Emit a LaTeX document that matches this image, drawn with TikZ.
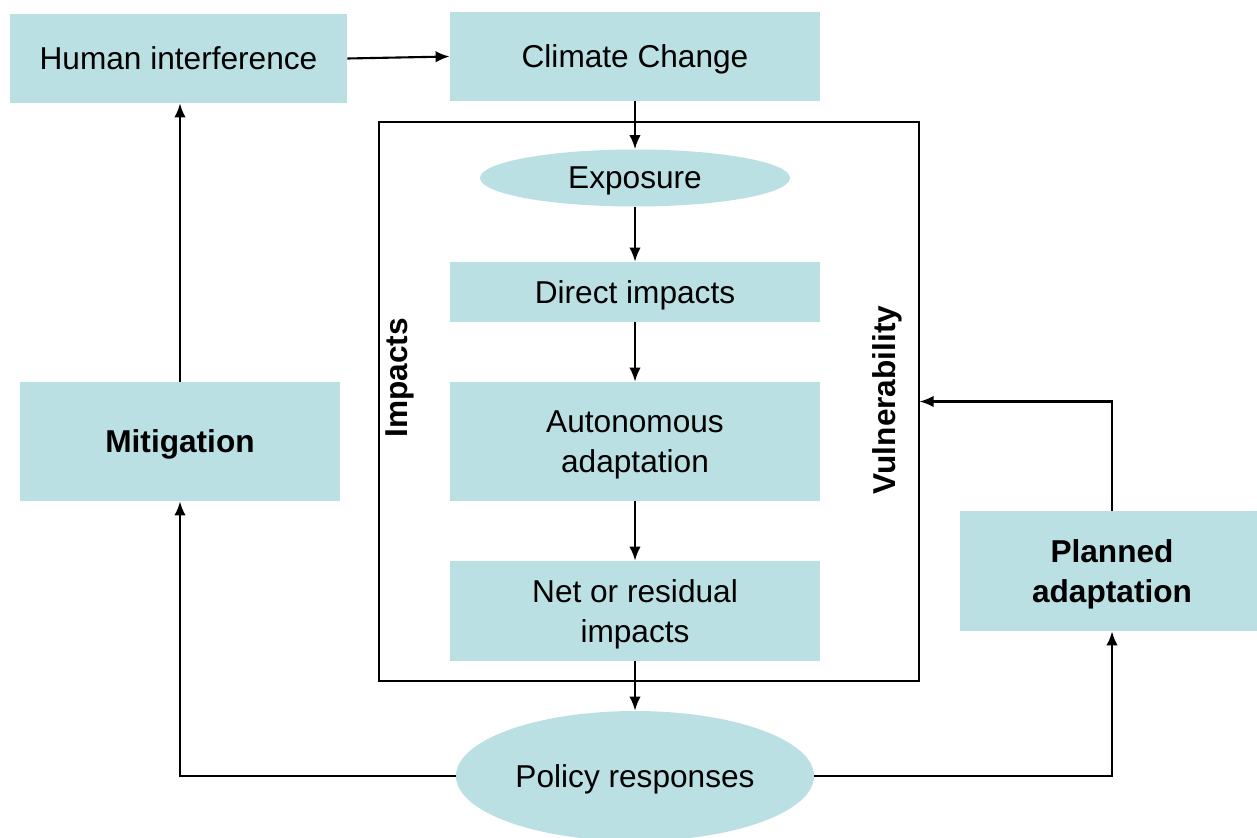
\documentclass[tikz,border=0pt]{standalone}
\usepackage{fontspec}
\setmainfont{Liberation Sans}
\usepackage{tikz}
\usetikzlibrary{shapes.geometric}
\usetikzlibrary{arrows.meta}
\definecolor{Pale}{RGB}{187,224,227}
\tikzset{flow/.style={-{Latex[length=8pt,width=6.5pt]},line width=1.2pt}}

\begin{document}
\begin{tikzpicture}[x=0.02cm,y=-0.02cm]
		\def\px {0.02cm}
		\tikzstyle{Box}=[rectangle,fill=Pale,inner sep=0pt,text depth=0pt,align=center,font=\fontsize{18}{22.5}\selectfont]
		\tikzstyle{Oval}=[ellipse,fill=Pale,inner sep=0pt,text depth=0pt,align=center,font=\fontsize{18}{22.5}\selectfont]
		\tikzstyle{Side}=[rotate=90,inner sep=0pt,font=\fontsize{18}{22.5}\selectfont\bfseries]

		\useasboundingbox (0,0) rectangle (1257,838);

		% frame round the impacts chain
		\node [draw,line width=0.6pt,minimum width=540*\px,minimum height=559*\px] (frame) at (649,401.5) {};

		\node [Box,minimum width=337*\px,minimum height=89*\px] (hi) at (178.5,58.5) {Human interference};
		\node [Box,minimum width=370*\px,minimum height=89*\px] (cc) at (635,56.5) {Climate Change};
		\node [Oval,minimum width=310*\px,minimum height=57*\px] (ex) at (635,178) {Exposure};
		\node [Box,minimum width=370*\px,minimum height=60*\px] (di) at (635,292) {Direct impacts};
		\node [Box,minimum width=370*\px,minimum height=119*\px] (aa) at (635,441.5) {Autonomous\\adaptation};
		\node [Box,minimum width=370*\px,minimum height=100*\px] (nr) at (635,611) {Net or residual\\impacts};
		\node [Oval,minimum width=358*\px,minimum height=130*\px] (pr) at (635,776) {Policy responses};
		\node [Box,minimum width=320*\px,minimum height=119*\px,font=\fontsize{18}{22.5}\selectfont\bfseries] (mit) at (180,441.5) {Mitigation};
		\node [Box,minimum width=304*\px,minimum height=120*\px,font=\fontsize{18}{22.5}\selectfont\bfseries] (pa) at (1112,571) {Planned\\adaptation};

		\node [Side] (imp) at (400,378) {Impacts};
		\node [Side] (vul) at (887,400) {Vulnerability};

		\draw [flow] (hi.east) -- (cc.west);
		\foreach \a/\b in {cc/ex,ex/di,di/aa,aa/nr,nr/pr}
		{
			\draw [flow] (\a.south) -- (\b.north);
		}
		\draw [flow] (pr.west) -| (mit.south);
		\draw [flow] (pr.east) -| (pa.south);
		\draw [flow] (mit.north) -- (mit.north |- hi.south);
		\draw [flow] (pa.north) |- (frame.east);
\end{tikzpicture}
\end{document}
